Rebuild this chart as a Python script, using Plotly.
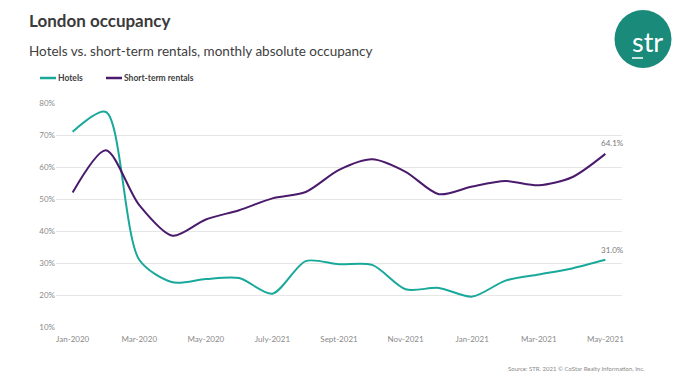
import plotly.graph_objects as go

months = ["Jan-2020", "Feb-2020", "Mar-2020", "Apr-2020", "May-2020", "Jun-2020",
          "July-2021", "Aug-2021", "Sept-2021", "Oct-2021", "Nov-2021", "Dec-2021",
          "Jan-2021", "Feb-2021", "Mar-2021", "Apr-2021", "May-2021"]
tick_labels = ["Jan-2020", "Mar-2020", "May-2020", "July-2021", "Sept-2021",
               "Nov-2021", "Jan-2021", "Mar-2021", "May-2021"]
hotels = [71.0, 77.2, 31.0, 24.0, 25.0, 25.3, 20.4, 30.6, 29.6, 29.4, 21.8, 22.2,
          19.5, 24.5, 26.4, 28.3, 31.0]
rentals = [52.0, 65.2, 48.1, 38.5, 43.6, 46.5, 50.2, 52.2, 59.1, 62.4, 58.5, 51.5,
           53.9, 55.6, 54.3, 56.8, 64.1]
yticks = [10, 20, 30, 40, 50, 60, 70, 80]

# the page body adds an 8px margin; work in screen pixels and convert
OX, OY = 8, 8
W, H = 684, 384
PL, PR, PT, PB = 56, 622, 103, 327          # plot area in screen pixels
L, T = PL - OX, PT - OY
R, B = W - (PR - OX), H - (PB - OY)
pw, ph = PR - PL, PB - PT

def px(x):
    return (x - PL) / pw

def py(y):
    return (PB - y) / ph

xi = list(range(len(months)))
TEAL = "#19a99b"
PURPLE = "#4a1a6c"
font = "Lato, 'Open Sans', sans-serif"

fig = go.Figure()
fig.add_trace(go.Scatter(x=xi, y=hotels, name="Hotels", mode="lines",
                         line=dict(color=TEAL, width=2, shape="spline", smoothing=0.8),
                         customdata=months, hovertemplate="%{customdata}: %{y:.1f}%<extra>Hotels</extra>"))
fig.add_trace(go.Scatter(x=xi, y=rentals, name="Short-term rentals", mode="lines",
                         line=dict(color=PURPLE, width=2, shape="spline", smoothing=0.8),
                         customdata=months, hovertemplate="%{customdata}: %{y:.1f}%<extra>Short-term rentals</extra>"))

annotations = [
    dict(text="<b>London occupancy</b>", x=px(27), y=py(20), xref="paper", yref="paper",
         xanchor="left", yanchor="middle", showarrow=False,
         font=dict(family=font, size=17, color="#3a3a3a")),
    dict(text="Hotels vs. short-term rentals, monthly absolute occupancy", x=px(27), y=py(51),
         xref="paper", yref="paper", xanchor="left", yanchor="middle", showarrow=False,
         font=dict(family=font, size=13.5, color="#404040")),
    dict(text="Source: STR. 2021 © CoStar Realty Information, Inc.", x=px(647), y=py(368),
         xref="paper", yref="paper", xanchor="right", yanchor="middle", showarrow=False,
         font=dict(family=font, size=6, color="#8a8a8a")),
    dict(text="str", x=px(647), y=py(42), xref="paper", yref="paper",
         xanchor="center", yanchor="middle", showarrow=False,
         font=dict(family=font, size=27, color="white")),
    dict(text="64.1%", x=xi[-1], y=rentals[-1], xref="x", yref="y", xanchor="center",
         yanchor="bottom", yshift=4, xshift=7, showarrow=False,
         font=dict(family=font, size=8, color="#7a7a7a")),
    dict(text="31.0%", x=xi[-1], y=hotels[-1], xref="x", yref="y", xanchor="center",
         yanchor="bottom", yshift=3, xshift=7, showarrow=False,
         font=dict(family=font, size=8, color="#7a7a7a")),
    # legend labels
    dict(text="<b>Hotels</b>", x=px(56), y=py(78), xref="paper", yref="paper",
         xanchor="left", yanchor="middle", showarrow=False,
         font=dict(family=font, size=8.5, color="#404040")),
    dict(text="<b>Short-term rentals</b>", x=px(122), y=py(78), xref="paper", yref="paper",
         xanchor="left", yanchor="middle", showarrow=False,
         font=dict(family=font, size=8.5, color="#404040")),
]

shapes = [
    dict(type="circle", xref="paper", yref="paper", x0=px(614.5), x1=px(671.5), y0=py(10), y1=py(68),
         fillcolor="#1a8a7a", line=dict(width=0)),
    dict(type="line", xref="paper", yref="paper", x0=px(632), x1=px(643), y0=py(58), y1=py(58),
         line=dict(color="white", width=1.5)),
    # legend swatches
    dict(type="line", xref="paper", yref="paper", x0=px(40), x1=px(56), y0=py(78), y1=py(78),
         line=dict(color=TEAL, width=2.5)),
    dict(type="line", xref="paper", yref="paper", x0=px(106), x1=px(122), y0=py(78), y1=py(78),
         line=dict(color=PURPLE, width=2.5)),
]

fig.update_layout(
    width=W, height=H,
    margin=dict(l=L, r=R, t=T, b=B, autoexpand=False),
    paper_bgcolor="white", plot_bgcolor="white",
    font=dict(family=font, color="#8a8a8a", size=8),
    showlegend=False,
    xaxis=dict(range=[-0.5, len(months) - 0.5], tickvals=xi[::2], ticktext=tick_labels,
               showgrid=False, zeroline=False, showline=False, ticks="",
               ticklabelstandoff=6,
               tickfont=dict(size=8, color="#8a8a8a")),
    yaxis=dict(range=[10, 80], tickvals=yticks, ticktext=[f"{v}%" for v in yticks],
               showgrid=True, gridcolor="#e6e6e6", gridwidth=1, zeroline=False,
               showline=False, ticks="", tickfont=dict(size=8, color="#8a8a8a")),
    annotations=annotations,
    shapes=shapes,
)

fig.write_html("out.html")
